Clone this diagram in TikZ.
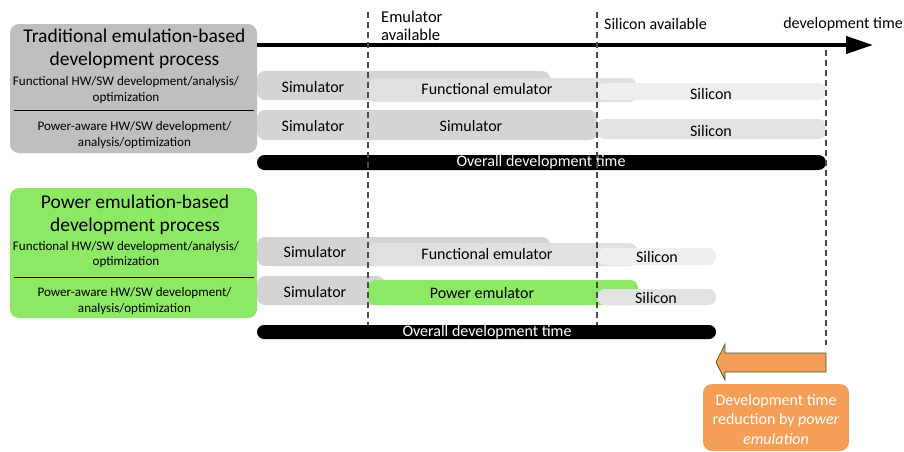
\documentclass[tikz,border=0pt]{standalone}
\usepackage{fontspec}
\setmainfont{Carlito}
\usetikzlibrary{arrows.meta}
\definecolor{boxgray}{HTML}{BFBFBF}
\definecolor{simgray}{HTML}{D4D4D4}
\definecolor{emugray}{HTML}{E0E0E0}
\definecolor{silgray}{HTML}{EEEEEE}
\definecolor{silgrayb}{HTML}{E2E2E2}
\definecolor{pgreen}{HTML}{8DE866}
\definecolor{porange}{HTML}{F59E57}
\definecolor{dashgray}{HTML}{4A4A4A}
\definecolor{arrowedge}{HTML}{3F5F2A}
\begin{document}
\begin{tikzpicture}[x=1pt,y=-1pt,
  titletext/.style={font=\fontsize{19.5}{23}\selectfont, align=center, inner sep=0},
  subtext/.style={font=\fontsize{13.1}{15.5}\selectfont, align=center, inner sep=0},
  lbl/.style={font=\fontsize{16}{18}\selectfont, inner sep=0},
  whitelbl/.style={font=\fontsize{16}{18}\selectfont, inner sep=0, text=white},
  bar/.style={rounded corners=8pt},
  thinbar/.style={rounded corners=7.5pt},
  milestone/.style={dashgray, line width=1.4pt, dash pattern=on 6pt off 4pt},
  sep/.style={line width=1pt}
]
\useasboundingbox (0,0) rectangle (904,451);

% ---------- traditional flow ----------
\fill[boxgray, rounded corners=9pt] (10,24) rectangle (257,153);
\node[titletext] (t1) at (134.5,48.5) {Traditional emulation-based\\development process};
\node[subtext] (t1f) at (126,90) {Functional HW/SW development/analysis/\\optimization};
\draw[sep] (14,110) -- (254,110);
\node[subtext] (t1p) at (134.5,135) {Power-aware HW/SW development/\\analysis/optimization};

% time axis
\coordinate (axisL) at (257,45);
\coordinate (axisR) at (873,45);
\draw[line width=4pt, -{Triangle[length=27pt,width=17pt]}] (axisL) -- (axisR);
\node[lbl, align=left, anchor=west, font=\fontsize{16.5}{18}\selectfont] (emavail) at (381,25.5) {Emulator\\available};
\node[lbl, anchor=west] (siavail) at (604,24) {Silicon available};
\node[lbl, anchor=east] (devtime) at (903,24) {development time};

% row 1 bars
\fill[simgray, bar] (257,71) rectangle (550,100);
\fill[emugray, bar] (368,78) rectangle (637,102);
\fill[silgray, thinbar] (597,83) rectangle (826,100);
\node[lbl] (s11) at (313,87) {Simulator};
\node[lbl] (fe1) at (487,89) {Functional emulator};
\node[lbl] (si11) at (711,94) {Silicon};

% row 2 bars
\fill[simgray, bar] (257,110) rectangle (597,140);
\fill[silgrayb, thinbar] (597,119) rectangle (826,139);
\node[lbl] (s12) at (313,126) {Simulator};
\node[lbl] (s12b) at (471,126) {Simulator};
\node[lbl] (si12) at (711,131) {Silicon};

% overall time
\fill[black, rounded corners=7.5pt] (257,155) rectangle (826,170);
\node[whitelbl] (ov1) at (541,162) {Overall development time};

% ---------- power emulation flow ----------
\fill[pgreen, rounded corners=9pt] (10,188) rectangle (257,318);
\node[titletext] (t2) at (135,215) {Power emulation-based\\development process};
\node[subtext] (t2f) at (126,254.5) {Functional HW/SW development/analysis/\\optimization};
\draw[sep] (14,277) -- (254,277);
\node[subtext] (t2p) at (134.5,301) {Power-aware HW/SW development/\\analysis/optimization};

% row 1 bars
\fill[simgray, bar] (257,237) rectangle (550,266);
\fill[emugray, bar] (368,243) rectangle (637,266);
\fill[silgray, thinbar] (597,248) rectangle (716,265);
\node[lbl] (s21) at (315,252) {Simulator};
\node[lbl] (fe2) at (487,254) {Functional emulator};
\node[lbl] (si21) at (657,257) {Silicon};

% row 2 bars
\fill[simgray, bar] (257,276) rectangle (385,305);
\fill[pgreen, bar] (368,280) rectangle (638,305);
\fill[silgrayb, thinbar] (597,289) rectangle (716,305);
\node[lbl] (s22) at (315,292) {Simulator};
\node[lbl] (pe2) at (482,293) {Power emulator};
\node[lbl] (si22) at (656,298) {Silicon};

% overall time
\fill[black, rounded corners=7pt] (257,325) rectangle (716,339);
\node[whitelbl] (ov2) at (487,332) {Overall development time};

% ---------- milestones ----------
\draw[milestone] (368,12) -- (368,325);
\draw[milestone] (597,12) -- (597,325);
\draw[milestone] (826,50) -- (826,345);

% ---------- time reduction ----------
\draw[arrowedge, fill=porange, line width=0.7pt]
  (826,353) -- (725,353) -- (725,344) -- (716,362) -- (725,380) -- (725,372) -- (826,372) -- cycle;
\fill[porange, rounded corners=9pt] (703,384) rectangle (849,451);
\node[whitelbl, align=center, font=\fontsize{16}{19.5}\selectfont] (red) at (776,419)
  {Development time\\reduction by \textit{power}\\\textit{emulation}};
\end{tikzpicture}
\end{document}
